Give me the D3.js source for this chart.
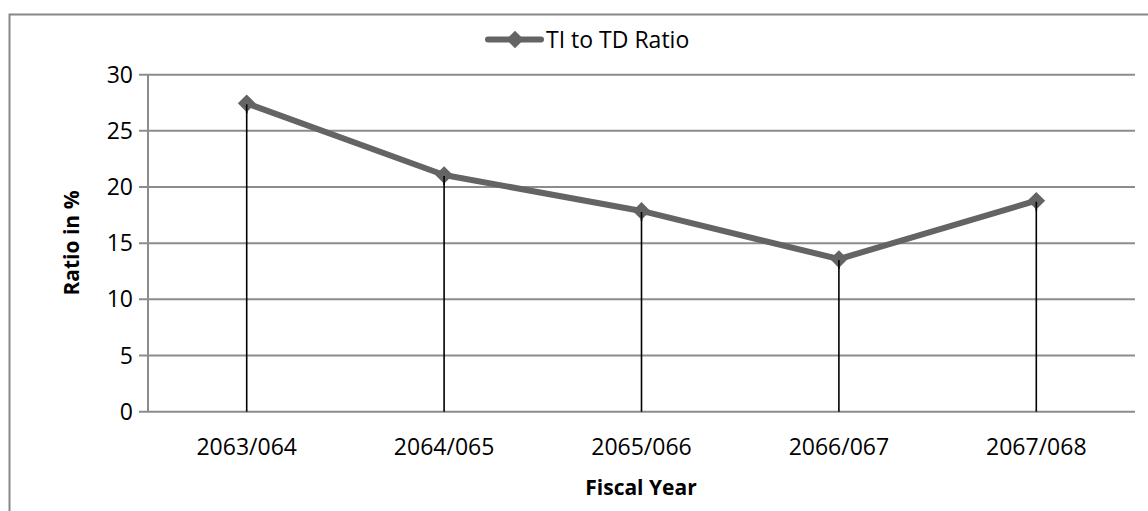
<!DOCTYPE html>
<html>
<head>
<meta charset="utf-8">
<script src="https://cdn.jsdelivr.net/npm/d3@7"></script>
<style>
  html, body { margin: 0; padding: 0; background: #fff; }
  svg { display: block; }
  text { font-family: "Open Sans", "Noto Sans", sans-serif; fill: #000; }
</style>
</head>
<body>
<svg id="chart" width="1148" height="511"></svg>
<script>
const categories = ["2063/064", "2064/065", "2065/066", "2066/067", "2067/068"];
const ratioValues = [27.45, 21.07, 17.87, 13.59, 18.78];
const yTicks = [0, 5, 10, 15, 20, 25, 30];
const seriesName = "TI to TD Ratio";
const xTitle = "Fiscal Year";
const yTitle = "Ratio in %";

const svg = d3.select("#chart");
const W = 1148, H = 511;
const plot = { left: 148, right: 1135, top: 74.7, bottom: 411.7 };

// outer border (chart area frame)
svg.append("rect")
  .attr("x", 9.5).attr("y", 14.5)
  .attr("width", W + 10).attr("height", H + 10)
  .attr("fill", "none").attr("stroke", "#888").attr("stroke-width", 2);

const x = d3.scalePoint().domain(categories)
  .range([plot.left, plot.right]).padding(0.5);
const y = d3.scaleLinear().domain([0, 30]).range([plot.bottom, plot.top]);

// gridlines
svg.append("g").selectAll("line").data(yTicks).join("line")
  .attr("x1", plot.left - 9).attr("x2", plot.right)
  .attr("y1", d => y(d)).attr("y2", d => y(d))
  .attr("stroke", "#8c8c8c").attr("stroke-width", 2);

// y axis line
svg.append("line")
  .attr("x1", plot.left).attr("x2", plot.left)
  .attr("y1", plot.top).attr("y2", plot.bottom)
  .attr("stroke", "#8c8c8c").attr("stroke-width", 2);

// y tick labels
svg.append("g").selectAll("text").data(yTicks).join("text")
  .attr("x", plot.left - 15).attr("y", d => y(d))
  .attr("dy", "0.35em").attr("text-anchor", "end")
  .attr("font-size", 23).text(d => d);

// x tick labels
svg.append("g").selectAll("text").data(categories).join("text")
  .attr("x", d => x(d)).attr("y", 447)
  .attr("dy", "0.35em").attr("text-anchor", "middle")
  .attr("font-size", 23).text(d => d);

// axis titles
svg.append("text")
  .attr("x", 641).attr("y", 488).attr("dy", "0.35em")
  .attr("text-anchor", "middle").attr("font-size", 21).attr("font-weight", "bold")
  .text(xTitle);
svg.append("text")
  .attr("transform", "translate(72,243) rotate(-90)")
  .attr("dy", "0.35em")
  .attr("text-anchor", "middle").attr("font-size", 21).attr("font-weight", "bold")
  .text(yTitle);

const data = categories.map((c, i) => ({ c, v: ratioValues[i] }));

// drop lines
svg.append("g").selectAll("line").data(data).join("line")
  .attr("x1", d => x(d.c)).attr("x2", d => x(d.c))
  .attr("y1", d => y(d.v)).attr("y2", y(0))
  .attr("stroke", "#000").attr("stroke-width", 1.6);

// series line
const line = d3.line().x(d => x(d.c)).y(d => y(d.v));
svg.append("path").datum(data)
  .attr("d", line).attr("fill", "none")
  .attr("stroke", "#646464").attr("stroke-width", 6).attr("stroke-linejoin", "round");

// markers
const diamond = d3.symbol().type(d3.symbolDiamond2).size(200);
svg.append("g").selectAll("path").data(data).join("path")
  .attr("transform", d => `translate(${x(d.c)},${y(d.v)})`)
  .attr("d", diamond).attr("fill", "#646464");

// drop lines visible over markers slightly (as in reference)
svg.append("g").selectAll("line").data(data).join("line")
  .attr("x1", d => x(d.c)).attr("x2", d => x(d.c))
  .attr("y1", d => y(d.v) + 1).attr("y2", d => y(d.v) + 10)
  .attr("stroke", "#000").attr("stroke-width", 1.6);

// legend
const lg = svg.append("g");
lg.append("line").attr("x1", 488).attr("x2", 541).attr("y1", 39.5).attr("y2", 39.5)
  .attr("stroke", "#646464").attr("stroke-width", 6).attr("stroke-linecap", "round");
lg.append("path").attr("transform", "translate(515,39.5)")
  .attr("d", diamond).attr("fill", "#646464");
lg.append("text").attr("x", 546).attr("y", 39.5).attr("dy", "0.35em")
  .attr("font-size", 23).text(seriesName);
</script>
</body>
</html>
